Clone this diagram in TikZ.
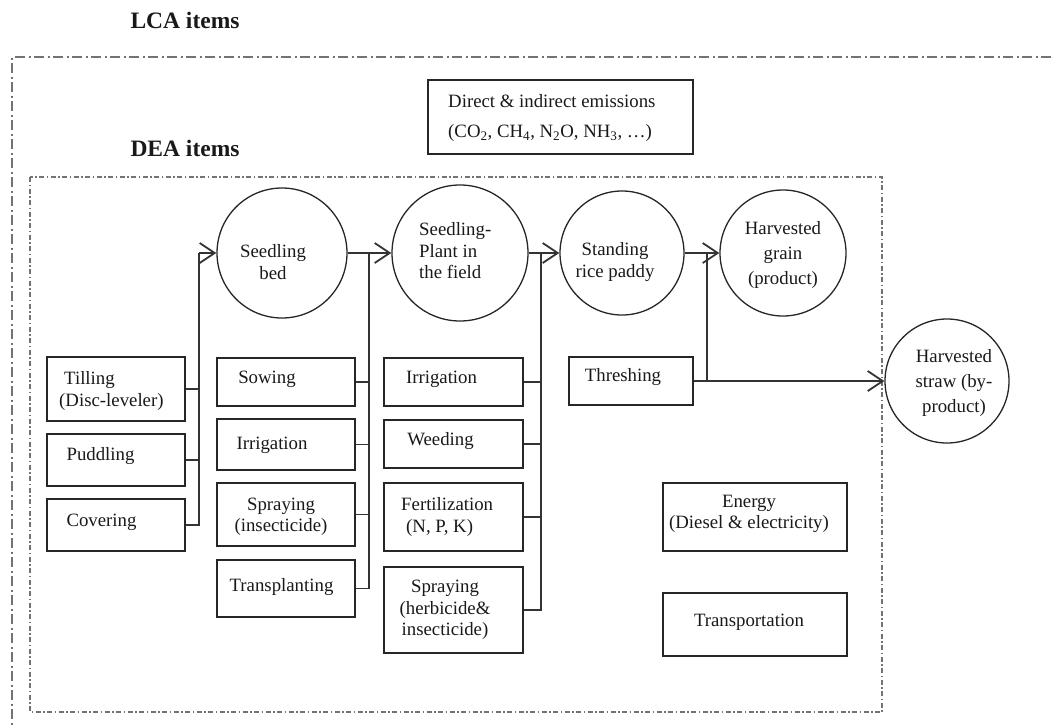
\documentclass[tikz,border=0pt]{standalone}
\usepackage{fontspec}
\setmainfont{Liberation Serif}
\usetikzlibrary{arrows.meta,shadows}
\begin{document}
\begin{tikzpicture}[x=1pt,y=-1pt,
  box/.style={draw=black!85, line width=1.4pt, fill=white, inner sep=0pt,
    drop shadow={shadow xshift=1.2pt,shadow yshift=-1.2pt,fill=black!50,opacity=0.6}},
  circ/.style={draw=black!85, circle, line width=1.3pt, inner sep=0pt},
  txt/.style={font=\fontsize{18.8}{21.5}\selectfont, inner sep=0pt, text=black!90},
  ttl/.style={font=\fontsize{23.5}{26}\selectfont\bfseries, inner sep=0pt, text=black!90},
  wire/.style={draw=black!80, line width=1.4pt},
  arr/.style={wire, -{Straight Barb[length=15pt,width=20pt,line width=1.8pt]}},
  lcaframe/.style={draw=black!55, line width=1.6pt, dash pattern=on 10pt off 3.5pt on 2pt off 3.5pt},
  deaframe/.style={draw=black!55, line width=1.3pt, dash pattern=on 5pt off 2.5pt on 1.5pt off 2.5pt}
]
\useasboundingbox (0,0) rectangle (1051,726);

% frames
\draw[lcaframe] (1070,57) -- (12,57) -- (12,745);
\draw[deaframe] (30,177) rectangle (882,712);

% titles
\node[ttl] (lca) at (185,20) {LCA items};
\node[ttl] (dea) at (185,148) {DEA items};

% emissions box
\node[box, minimum width=265pt, minimum height=74pt] (emis) at (560.5,117) {};
\node[txt, font=\fontsize{18.8}{30}\selectfont, align=left, anchor=west] (emisT) at (448,118)
  {Direct \& indirect emissions\\(CO\textsubscript{2}, CH\textsubscript{4}, N\textsubscript{2}O, NH\textsubscript{3}, …)};

% circles
\node[circ, minimum size=130pt] (bed) at (282,253) {};
\node[circ, minimum size=136pt] (plant) at (460,253) {};
\node[circ, minimum size=124pt] (stand) at (622,253) {};
\node[circ, minimum size=126pt] (grain) at (783,253) {};
\node[circ, minimum size=124pt] (straw) at (947,381) {};

\node[txt, align=center] (bedT) at (273,262) {Seedling\\bed};
\node[txt, align=left, anchor=west] (plantT) at (419,251) {Seedling-\\Plant in\\the field};
\node[txt, align=center] (standT) at (615,262) {Standing\\rice paddy};
\node[txt, font=\fontsize{18.8}{25}\selectfont, align=center] (grainT) at (783,255) {Harvested\\grain\\(product)};
\node[txt, font=\fontsize{18.8}{25}\selectfont, align=center] (strawT) at (954,383) {Harvested\\straw (by-\\product)};

% column 1 boxes
\node[box, minimum width=138pt, minimum height=64pt] (till) at (116,389) {};
\node[box, minimum width=138pt, minimum height=52pt] (pudd) at (116,460) {};
\node[box, minimum width=138pt, minimum height=52pt] (cover) at (116,525) {};
\node[txt, align=left, anchor=west] (tillT) at (59,391) {\hspace*{5pt}Tilling\\(Disc-leveler)};
\node[txt] (puddT) at (100.5,456) {Puddling};
\node[txt] (coverT) at (101.5,522) {Covering};

% column 2 boxes
\node[box, minimum width=138pt, minimum height=48pt] (sow) at (286,382) {};
\node[box, minimum width=138pt, minimum height=51pt] (irrA) at (286,444.5) {};
\node[box, minimum width=138pt, minimum height=63pt] (sprA) at (286,514.5) {};
\node[box, minimum width=138pt, minimum height=57pt] (trans) at (286,588.5) {};
\node[txt] (sowT) at (267,379) {Sowing};
\node[txt] (irrAT) at (272,445) {Irrigation};
\node[txt, align=center] (sprAT) at (281,517) {Spraying\\(insecticide)};
\node[txt] (transT) at (281.5,587) {Transplanting};

% column 3 boxes
\node[box, minimum width=139pt, minimum height=48pt] (irrB) at (453.5,382) {};
\node[box, minimum width=139pt, minimum height=48pt] (weed) at (453.5,444) {};
\node[box, minimum width=139pt, minimum height=68pt] (fert) at (453.5,517) {};
\node[box, minimum width=139pt, minimum height=86pt] (sprB) at (453.5,610) {};
\node[txt] (irrBT) at (441.5,379) {Irrigation};
\node[txt] (weedT) at (440.5,441) {Weeding};
\node[txt, align=left, anchor=west] (fertT) at (401,517) {Fertilization\\\hspace*{5pt}(N, P, K)};
\node[txt, align=center] (sprBT) at (445,610) {Spraying\\(herbicide\&\\insecticide)};

% threshing and others
\node[box, minimum width=124pt, minimum height=48pt] (thresh) at (631,381) {};
\node[txt] (threshT) at (623,377) {Threshing};
\node[box, minimum width=184pt, minimum height=68pt] (energy) at (755,517) {};
\node[txt, align=center] (energyT) at (749,514) {Energy\\(Diesel \& electricity)};
\node[box, minimum width=184pt, minimum height=63pt] (transp) at (755,624.5) {};
\node[txt] (transpT) at (749,622) {Transportation};

% collector coordinates
\coordinate (j1) at (199,253);
\coordinate (j2) at (369,253);
\coordinate (j3) at (541,253);
\coordinate (j4) at (707,253);

% column 1 wiring
\draw[wire] (till.east) -- (till.east -| j1);
\draw[wire] (pudd.east) -- (pudd.east -| j1);
\draw[wire] (cover.east) -- (cover.east -| j1) -- (j1);
\draw[arr] (j1) -- (bed.west);

% column 2 wiring
\draw[wire] (sow.east) -- (sow.east -| j2);
\draw[wire] (irrA.east) -- (irrA.east -| j2);
\draw[wire] (sprA.east) -- (sprA.east -| j2);
\draw[wire] (trans.east) -- (trans.east -| j2) -- (j2);
\draw[arr] (bed.east) -- (plant.west);

% column 3 wiring
\draw[wire] (irrB.east) -- (irrB.east -| j3);
\draw[wire] (weed.east) -- (weed.east -| j3);
\draw[wire] (fert.east) -- (fert.east -| j3);
\draw[wire] (sprB.east) -- (sprB.east -| j3) -- (j3);
\draw[arr] (plant.east) -- (stand.west);

% harvest wiring
\draw[arr] (stand.east) -- (grain.west);
\draw[wire] (j4) -- (j4 |- thresh.east);
\draw[arr] (thresh.east) -- (straw.west);
\end{tikzpicture}
\end{document}
